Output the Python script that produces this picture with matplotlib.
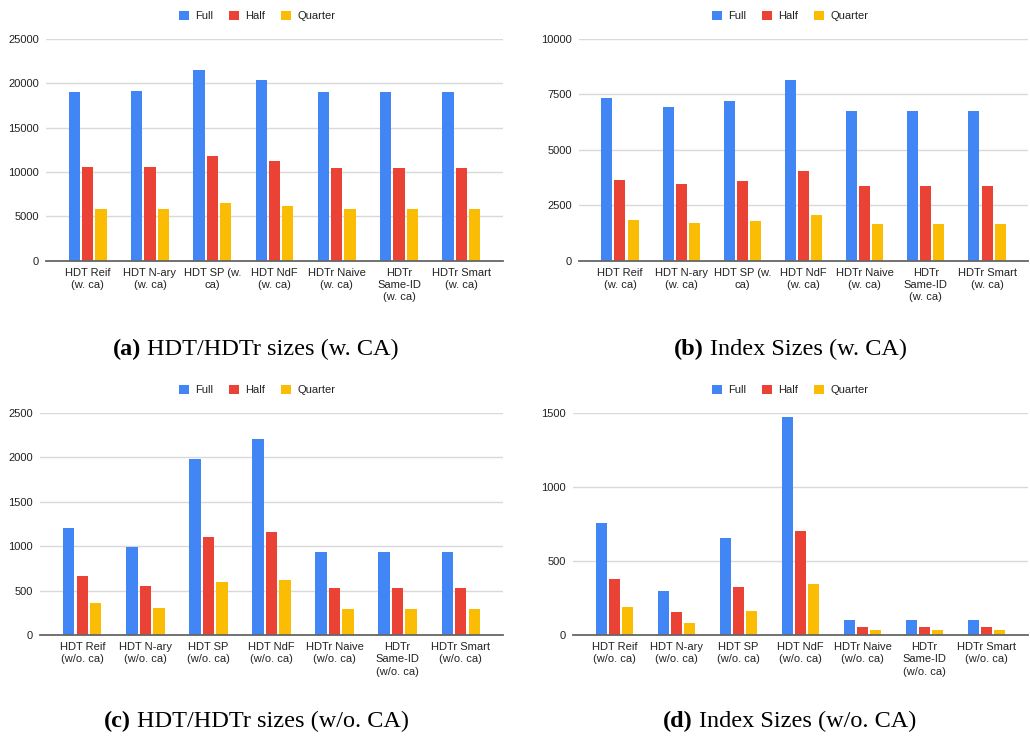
import numpy as np
import matplotlib
matplotlib.use('Agg')
import matplotlib.pyplot as plt
from matplotlib.patches import Patch

plt.rcParams['font.family'] = ['Liberation Sans', 'DejaVu Sans']

series = ['Full', 'Half', 'Quarter']
colors = ['#4285F4', '#EA4335', '#FBBC04']

labels_ca = ['HDT Reif\n(w. ca)', 'HDT N-ary\n(w. ca)', 'HDT SP (w.\nca)', 'HDT NdF\n(w. ca)',
             'HDTr Naive\n(w. ca)', 'HDTr\nSame-ID\n(w. ca)', 'HDTr Smart\n(w. ca)']
labels_noca = ['HDT Reif\n(w/o. ca)', 'HDT N-ary\n(w/o. ca)', 'HDT SP\n(w/o. ca)', 'HDT NdF\n(w/o. ca)',
               'HDTr Naive\n(w/o. ca)', 'HDTr\nSame-ID\n(w/o. ca)', 'HDTr Smart\n(w/o. ca)']

# (a) HDT/HDTr sizes with CA
hdt_ca_full = [19000, 19100, 21500, 20400, 19000, 19000, 19000]
hdt_ca_half = [10600, 10600, 11800, 11200, 10500, 10500, 10500]
hdt_ca_quarter = [5860, 5860, 6470, 6170, 5860, 5860, 5860]

# (b) index sizes with CA
idx_ca_full = [7320, 6930, 7200, 8150, 6740, 6740, 6740]
idx_ca_half = [3640, 3460, 3610, 4030, 3370, 3370, 3370]
idx_ca_quarter = [1830, 1710, 1790, 2060, 1670, 1670, 1670]

# (c) HDT/HDTr sizes without CA
hdt_noca_full = [1200, 991, 1978, 2203, 931, 931, 931]
hdt_noca_half = [664, 556, 1100, 1156, 526, 526, 526]
hdt_noca_quarter = [357, 308, 597, 616, 289, 289, 289]

# (d) index sizes without CA
idx_noca_full = [754, 300, 653, 1471, 104, 104, 104]
idx_noca_half = [381, 155, 327, 705, 56, 56, 56]
idx_noca_quarter = [191, 79, 162, 347, 32, 32, 32]

W, H = 1030, 740
fig = plt.figure(figsize=(W / 100, H / 100), dpi=100)
CAP_FS = 17.5
CAP_FONT = 'Liberation Serif'


def px_axes(left, right, top, bottom):
    return fig.add_axes([left / W, 1 - bottom / H, (right - left) / W, (bottom - top) / H])


def text_width(s, **kw):
    r = fig.canvas.get_renderer()
    t = fig.text(0, 0, s, **kw)
    w = t.get_window_extent(r).width
    t.remove()
    return w


def caption(xy, tag, txt):
    # bold tag followed by regular caption text, centred as a whole
    kw = dict(fontsize=CAP_FS, family=CAP_FONT)
    wtag = text_width('(%s) ' % tag, weight='bold', **kw)
    wtxt = text_width(txt, **kw)
    x0 = xy[0] - (wtag + wtxt) / 2
    y = 1 - xy[1] / H
    fig.text(x0 / W, y, '(%s)' % tag, weight='bold', ha='left', va='center', **kw)
    fig.text((x0 + wtag) / W, y, txt, ha='left', va='center', **kw)


def panel(box, data, labels, ymax, ystep, legend_xy):
    ax = px_axes(*box)
    x = np.arange(len(labels))
    for i, (vals, c, name) in enumerate(zip(data, colors, series)):
        ax.bar(x + (i - 1) * 0.214, vals, width=0.18, color=c, label=name, zorder=2)
    ax.set_xlim(-0.67, 6.67)
    ax.set_ylim(0, ymax)
    ax.set_yticks(np.arange(0, ymax + 1, ystep))
    ax.set_xticks(x)
    ax.set_xticklabels(labels, linespacing=1.3)
    ax.tick_params(axis='both', length=0, labelsize=8, colors='#222222')
    ax.tick_params(axis='x', pad=5)
    ax.tick_params(axis='y', pad=5)
    ax.grid(axis='y', color='#d9d9d9', linewidth=1, zorder=0)
    for s in ['top', 'right', 'left']:
        ax.spines[s].set_visible(False)
    ax.spines['bottom'].set_color('#666666')
    ax.spines['bottom'].set_linewidth(1.3)
    ax.spines['bottom'].set_zorder(3)

    handles = [Patch(facecolor=c, label=n) for c, n in zip(colors, series)]
    fig.legend(handles=handles, loc='center', bbox_to_anchor=(legend_xy[0] / W, 1 - legend_xy[1] / H),
               ncol=3, frameon=False, fontsize=8, handlelength=0.9, handleheight=0.9,
               handletextpad=0.6, columnspacing=1.4, labelcolor='#222222')
    return ax


panel((46, 503, 39, 260.7), [hdt_ca_full, hdt_ca_half, hdt_ca_quarter], labels_ca,
      25000, 5000, (257, 16))
panel((579, 1028, 39, 260.7), [idx_ca_full, idx_ca_half, idx_ca_quarter], labels_ca,
      10000, 2500, (790, 16))
panel((40, 503, 413, 635), [hdt_noca_full, hdt_noca_half, hdt_noca_quarter], labels_noca,
      2500, 500, (257, 390))
panel((573, 1028, 413, 635), [idx_noca_full, idx_noca_half, idx_noca_quarter], labels_noca,
      1500, 500, (790, 390))

caption((256, 349), 'a', 'HDT/HDTr sizes (w. CA)')
caption((790, 349), 'b', 'Index Sizes (w. CA)')
caption((256, 721), 'c', 'HDT/HDTr sizes (w/o. CA)')
caption((790, 721), 'd', 'Index Sizes (w/o. CA)')

fig.savefig('out.png', dpi=100, facecolor='white')
